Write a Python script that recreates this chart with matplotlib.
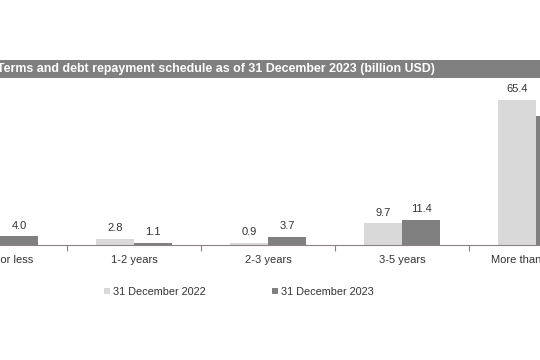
import matplotlib
matplotlib.use("Agg")
import matplotlib.pyplot as plt
import numpy as np
from matplotlib.patches import Rectangle, Patch

plt.rcParams['font.family'] = ['Liberation Sans', 'DejaVu Sans']

categories = ["1 year or less", "1-2 years", "2-3 years", "3-5 years", "More than 5 years"]
values_2022 = [3.2, 2.8, 0.9, 9.7, 65.4]
values_2023 = [4.0, 1.1, 3.7, 11.4, 57.9]
series_names = ["31 December 2022", "31 December 2023"]
title = "Terms and debt repayment schedule as of 31 December 2023 (billion USD)"

c22 = "#d9d9d9"
c23 = "#808080"
W, H = 540, 360
fig = plt.figure(figsize=(W / 100, H / 100), dpi=100)

base_px = 245
top_px = 80
ppu = 2.22
ax = fig.add_axes([0, (H - base_px) / H, 1, (base_px - top_px) / H])
ax.set_xlim(0, W / 134)
ax.set_ylim(0, (base_px - top_px) / ppu)

x = np.arange(len(categories))
bw = 0.285
b1 = ax.bar(x - bw / 2, values_2022, bw, color=c22, zorder=2)
b2 = ax.bar(x + bw / 2, values_2023, bw, color=c23, zorder=2)
for bars, vals in ((b1, values_2022), (b2, values_2023)):
    for r, v in zip(bars, vals):
        ax.annotate(f"{v:.1f}", (r.get_x() + r.get_width() / 2, v),
                    xytext=(0, 4), textcoords="offset points",
                    ha="center", va="bottom", fontsize=8, color="#333333")

ax.set_xticks(x)
ax.set_xticklabels(categories, fontsize=8, color="#333333")
ax.tick_params(axis="x", which="major", length=0, pad=7.5)
ax.set_xticks(x[:-1] + 0.5, minor=True)
ax.tick_params(axis="x", which="minor", length=4, width=0.8, color="#8c8080", direction="out")
ax.set_yticks([])
for s in ("top", "left", "right"):
    ax.spines[s].set_visible(False)
ax.spines["bottom"].set_color("#8c8080")
ax.spines["bottom"].set_linewidth(0.8)

# title band
fig.patches.append(Rectangle((0, (H - 78) / H), 1, 18 / H, transform=fig.transFigure,
                             facecolor="#808080", edgecolor="none", zorder=0))
fig.text(-3 / W, (H - 69) / H, title, color="white", fontsize=8.9, fontweight="bold",
         ha="left", va="center")

handles = [Patch(facecolor=c22, edgecolor="none"), Patch(facecolor=c23, edgecolor="none")]
fig.legend(handles, series_names, loc="center", bbox_to_anchor=(239 / W, (H - 292) / H),
           ncol=2, frameon=False, fontsize=7.8, handlelength=0.55, handleheight=0.55,
           handletextpad=0.3, columnspacing=6.15, labelcolor="#333333")

fig.savefig("out.png", dpi=100)
